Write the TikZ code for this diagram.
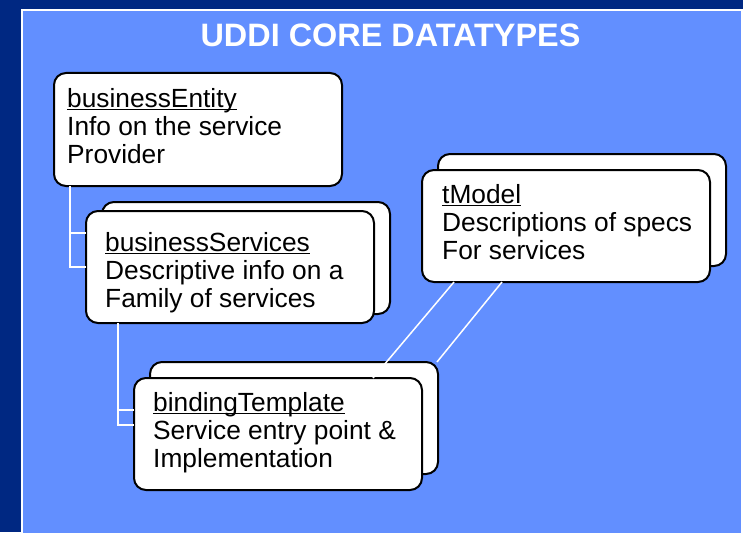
\documentclass[tikz,border=0pt]{standalone}
\usepackage{fontspec}
\setmainfont{Liberation Sans}
\usetikzlibrary{calc}
\definecolor{navy}{RGB}{0,40,130}
\definecolor{panelblue}{RGB}{98,143,255}
% underline at a fixed depth, crossing descenders
\newcommand\ulword[1]{\setbox0\hbox{#1}\rlap{\rule[-3.4pt]{\wd0}{1.7pt}}\box0}
\tikzset{
  card/.style={draw=black, line width=2pt, fill=white, rounded corners=12pt,
    minimum width=288pt, minimum height=112pt, inner sep=0pt, outer sep=0pt,
    anchor=north west},
  cardtext/.style={anchor=base west, inner sep=0pt, text=black,
    font=\fontsize{26.3}{28}\selectfont},
  wire/.style={draw=white, line width=1.5pt},
}
\begin{document}
\begin{tikzpicture}[x=1pt,y=-1pt]
\useasboundingbox (0,0) rectangle (743,532);
\fill[navy] (0,0) rectangle (743,532);
\draw[white, line width=2pt, fill=panelblue] (22,10) rectangle (742,545);
\node[font=\bfseries\fontsize{32.4}{33}\selectfont, text=white, anchor=base,
  inner sep=0pt] (title) at (390.5,46.7) {UDDI CORE DATATYPES};

% stacked back cards
\node[card] (bsb) at (102,202) {};
\node[card] (tmb) at (438,154) {};
\node[card] (btb) at (150,362) {};

% front cards
\node[card, minimum height=113pt] (be) at (54,73) {};
\node[card] (bs) at (86,211) {};
\node[card] (tm) at (422,170) {};
\node[card] (bt) at (134,378) {};

% card texts
\node[cardtext] (be1) at (67,107) {\ulword{businessEntity}};
\node[cardtext] (be2) at (67,135.5) {Info on the service};
\node[cardtext] (be3) at (67,163.5) {Provider};

\node[cardtext] (bs1) at (105,251) {\ulword{businessServices}};
\node[cardtext] (bs2) at (105,279.5) {Descriptive info on a};
\node[cardtext] (bs3) at (105,307.5) {Family of services};

\node[cardtext] (tm1) at (442,203) {\ulword{tModel}};
\node[cardtext] (tm2) at (442,231) {Descriptions of specs};
\node[cardtext] (tm3) at (442,259) {For services};

\node[cardtext] (bt1) at (153,411) {\ulword{bindingTemplate}};
\node[cardtext] (bt2) at (153,439) {Service entry point \&};
\node[cardtext] (bt3) at (153,467) {Implementation};

% containment links
\coordinate (beleg) at ([xshift=16pt]be.south west);
\coordinate (bsin) at ([yshift=-22pt]bs.north west);
\draw[wire] (beleg) |- (bs.west);
\draw[wire] (beleg |- bsin) -- (bsin);

\coordinate (bsleg) at ([xshift=32pt]bs.south west);
\coordinate (btin1) at ([yshift=-32pt]bt.north west);
\coordinate (btin2) at ([yshift=-47pt]bt.north west);
\draw[wire] (bsleg) |- (btin2);
\draw[wire] (bsleg |- btin1) -- (btin1);

% tModel references
\draw[wire] ([xshift=32pt]tm.south west) -- ([xshift=239pt]bt.north west);
\draw[wire] ([xshift=80pt]tm.south west) -- ([xshift=-1pt]btb.north east);
\end{tikzpicture}
\end{document}
